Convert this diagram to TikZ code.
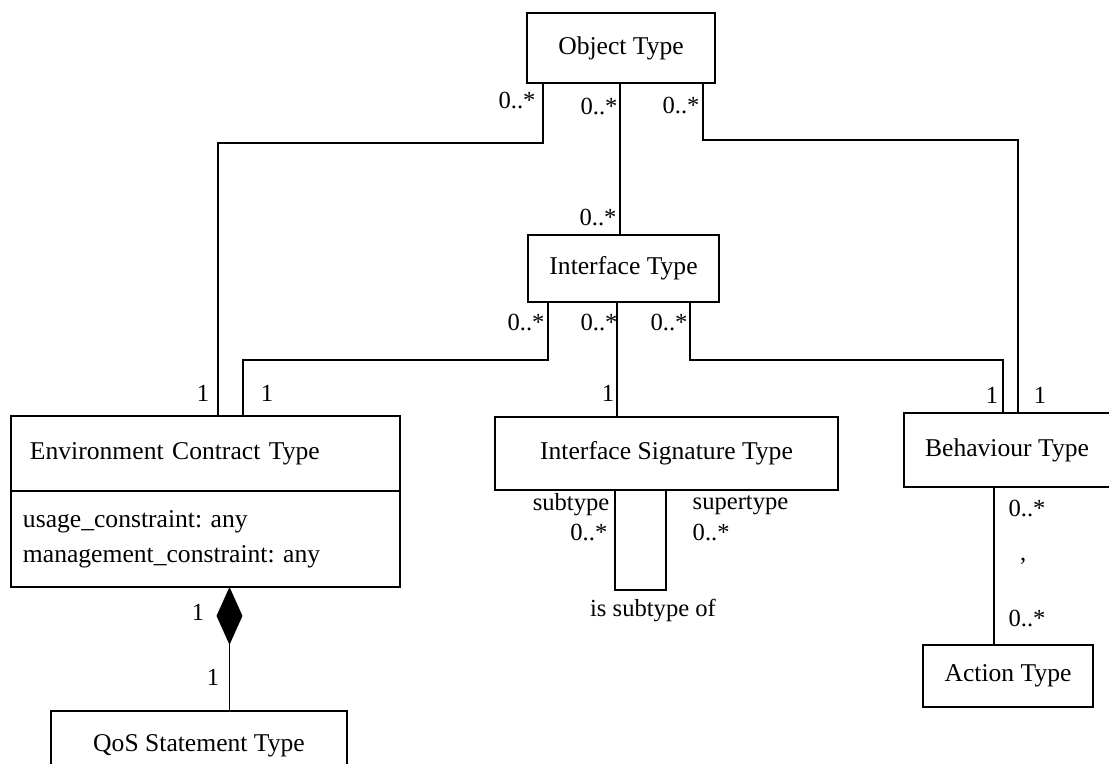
\documentclass[tikz,border=0pt]{standalone}
\usepackage{fontspec}
\setmainfont{Liberation Serif}
\usetikzlibrary{shapes.geometric}
\frenchspacing

\begin{document}
\begin{tikzpicture}[x=0.5pt,y=-0.5pt,line width=0.7pt]
	\tikzstyle{every node}=[font=\fontsize{12.8}{15}\selectfont]
	\tikzstyle{cls}=[draw,rectangle,inner sep=0pt]
	\tikzstyle{mult}=[inner sep=0pt,font=\fontsize{12.3}{14}\selectfont]
	\tikzstyle{comp}=[draw,fill=black,diamond,inner sep=0pt,minimum width=12.5pt,minimum height=27.5pt]
	\clip (0,0) rectangle (1109,764);
	% classes
	\node[cls,minimum width=94pt,minimum height=35pt] (obj) at (621,48) {Object Type};
	\node[cls,minimum width=95.5pt,minimum height=33.5pt] (itf) at (623.5,268.5) {Interface Type};
	\node[cls,text width=175.5pt,inner xsep=9.5pt,minimum height=37.5pt,align=left] (env) at (205.5,453.5) {Environment Contract Type};
	\node[cls,text width=182.5pt,inner xsep=6pt,minimum height=48pt,align=left,
		font=\fontsize{12.8}{17.5}\selectfont] (attr) at (205.5,539) {usage\_constraint: any\\management\_constraint: any};
	\node[cls,minimum width=171.5pt,minimum height=36.5pt] (sig) at (666.5,453.5) {Interface Signature Type};
	\node[cls,minimum width=103pt,minimum height=37pt] (beh) at (1007,450) {Behaviour Type};
	\node[cls,minimum width=85pt,minimum height=31pt] (act) at (1008,676) {Action Type};
	\node[cls,minimum width=148pt,minimum height=35pt] (qos) at (199,746) {QoS Statement Type};
	\node[comp,anchor=north] (comp) at (229.5,0 |- attr.south) {};
	% associations
	\draw (543,0 |- obj.south) |- (218,143) -- (218,0 |- env.north);
	\draw (620,0 |- obj.south) -- (620,0 |- itf.north);
	\draw (703,0 |- obj.south) |- (1018,140) -- (1018,0 |- beh.north);
	\draw (548,0 |- itf.south) |- (243,360) -- (243,0 |- env.north);
	\draw (617,0 |- itf.south) -- (617,0 |- sig.north);
	\draw (690,0 |- itf.south) |- (1003,360) -- (1003,0 |- beh.north);
	\draw (615,0 |- sig.south) |- (666,590) -- (666,0 |- sig.south);
	\draw (994,0 |- beh.south) -- (994,0 |- act.north);
	\draw (comp.south) -- (comp.south |- qos.north);
	% multiplicities
	\node[mult] (obj-env) at (517,100) {0..*};
	\node[mult] (obj-itf) at (599,106) {0..*};
	\node[mult] (obj-beh) at (681,105) {0..*};
	\node[mult] (itf-obj) at (598,217) {0..*};
	\node[mult] (itf-env) at (526,322) {0..*};
	\node[mult] (itf-sig) at (599,322) {0..*};
	\node[mult] (itf-beh) at (669,322) {0..*};
	\node[mult] (env-obj) at (203,393) {1};
	\node[mult] (env-itf) at (267,393) {1};
	\node[mult] (sig-itf) at (608,393) {1};
	\node[mult] (beh-itf) at (992,395) {1};
	\node[mult] (beh-obj) at (1040,395) {1};
	\node[mult] (env-qos) at (198,612) {1};
	\node[mult] (qos-env) at (213,677) {1};
	\node[mult,anchor=east] (sub) at (610,505) {subtype};
	\node[mult,anchor=east] (sub-m) at (608,532) {0..*};
	\node[mult,anchor=west] (super) at (692,505) {supertype};
	\node[mult,anchor=west] (super-m) at (692,532) {0..*};
	\node[mult] (loop) at (653,610) {is subtype of};
	\node[mult] (beh-act) at (1027,508) {0..*};
	\node[mult] (tick) at (1023,566) {'};
	\node[mult] (act-beh) at (1027,618) {0..*};
\end{tikzpicture}
\end{document}
